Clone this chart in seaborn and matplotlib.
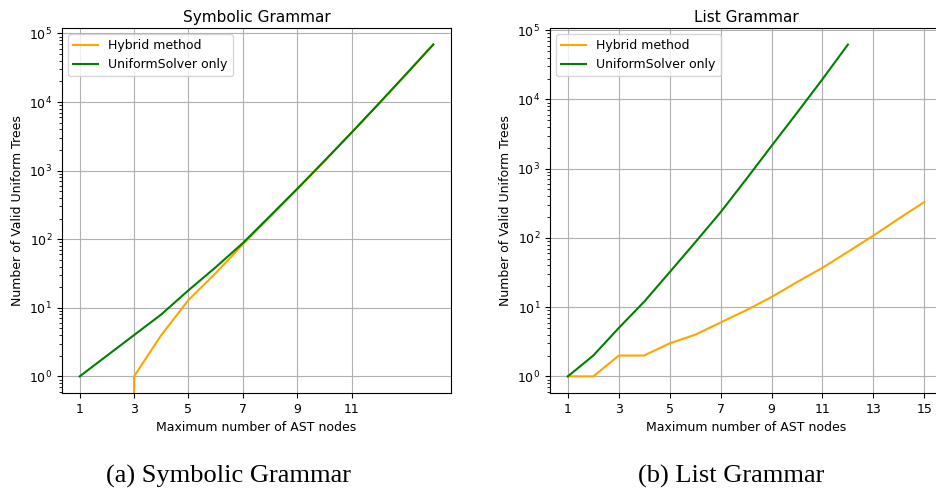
import matplotlib
matplotlib.use("Agg")
import matplotlib.pyplot as plt
import seaborn as sns
import numpy as np

# Symbolic grammar: counts of valid uniform trees per AST-node budget
sym_nodes = [1, 2, 3, 4, 5, 6, 7, 8, 9, 10, 11, 12, 13, 14]
sym_hybrid = [0, 0, 1, 4, 13, 32, 84, 212, 535, 1380, 3600, 9500, 25500, 69000]
sym_uniform = [1, 2, 4, 8, 18, 39, 88, 218, 545, 1390, 3600, 9500, 25500, 69000]

# List grammar
list_nodes = [1, 2, 3, 4, 5, 6, 7, 8, 9, 10, 11, 12, 13, 14, 15]
list_hybrid = [1, 1, 2, 2, 3, 4, 6, 9, 14, 23, 37, 63, 108, 190, 330]
list_uniform_nodes = [1, 2, 3, 4, 5, 6, 7, 8, 9, 10, 11, 12]
list_uniform = [1, 2, 5, 12, 32, 86, 235, 700, 2130, 6400, 19600, 62000]

sym_ticks = [1, 3, 5, 7, 9, 11]
list_ticks = [1, 3, 5, 7, 9, 11, 13, 15]

fig = plt.figure(figsize=(9.36, 4.9), dpi=100)
ax1 = fig.add_axes([0.0662, 0.198, 0.4156, 0.745])
ax2 = fig.add_axes([0.5876, 0.198, 0.419, 0.745])

FS = 9


def draw(ax, x_h, y_h, x_u, y_u, ticks, title):
    sns.lineplot(x=x_h, y=y_h, ax=ax, color="orange", label="Hybrid method",
                 linewidth=1.5)
    sns.lineplot(x=x_u, y=y_u, ax=ax, color="green", label="UniformSolver only",
                 linewidth=1.5)
    ax.set_yscale("log")
    ax.set_xticks(ticks)
    ax.grid(True, which="major", color="#b0b0b0", linewidth=0.8)
    ax.set_axisbelow(True)
    ax.set_title(title, fontsize=11, pad=4)
    ax.set_xlabel("Maximum number of AST nodes", fontsize=FS)
    ax.set_ylabel("Number of Valid Uniform Trees", fontsize=FS)
    ax.tick_params(labelsize=FS)
    ax.legend(loc="upper left", fontsize=FS)


draw(ax1, sym_nodes, sym_hybrid, sym_nodes, sym_uniform, sym_ticks, "Symbolic Grammar")
draw(ax2, list_nodes, list_hybrid, list_uniform_nodes, list_uniform, list_ticks, "List Grammar")

fig.text(0.244, 0.016, "(a) Symbolic Grammar", family="Liberation Serif",
         fontsize=19, ha="center", va="baseline")
fig.text(0.781, 0.016, "(b) List Grammar", family="Liberation Serif",
         fontsize=19, ha="center", va="baseline")

fig.savefig("out.png", dpi=100)
